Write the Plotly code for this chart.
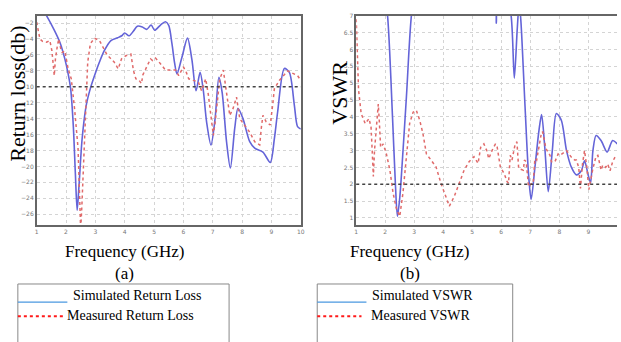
import plotly.graph_objects as go

W, H = 621, 342

# ---------------- data ----------------
rl_sim_f = [1.0, 1.2, 1.34, 1.6, 1.8, 1.96, 2.08, 2.16, 2.25, 2.32, 2.38, 2.45, 2.55, 2.69, 2.83,
            3.0, 3.14, 3.3, 3.53, 3.76, 3.9, 4.0, 4.15, 4.3, 4.43, 4.6, 4.75, 4.9, 5.02, 5.22,
            5.39, 5.5, 5.61, 5.7, 5.78, 5.95, 6.14, 6.29, 6.43, 6.57, 6.68, 6.79, 6.94, 7.08,
            7.21, 7.32, 7.47, 7.6, 7.75, 7.86, 8.03, 8.26, 8.43, 8.71, 8.96, 9.1, 9.21, 9.44,
            9.61, 9.78, 9.89, 10.0]
rl_sim_v = [0.8, -0.3, -1.1, -2.9, -4.5, -6.5, -8.5, -10.3, -15.0, -21.0, -25.5, -22.0, -16.5,
            -12.3, -10.2, -8.3, -6.9, -5.5, -4.2, -3.85, -3.6, -3.25, -3.6, -3.0, -2.4, -2.5,
            -2.8, -2.25, -2.9, -2.25, -1.85, -2.3, -4.6, -7.0, -8.4, -6.3, -3.9, -6.6, -10.5,
            -8.2, -10.5, -14.4, -17.3, -14.0, -8.8, -10.7, -16.9, -20.2, -15.2, -12.7, -14.0,
            -16.9, -17.7, -18.2, -19.5, -16.5, -13.2, -7.7, -8.2, -12.3, -15.0, -15.3]

rl_meas_f = [1.0, 1.05, 1.11, 1.2, 1.34, 1.45, 1.52, 1.6, 1.64, 1.7, 1.75, 1.82, 1.87, 1.96,
             2.07, 2.18, 2.29, 2.41, 2.46, 2.5, 2.54, 2.58, 2.66, 2.74, 2.83, 2.97, 3.14, 3.28,
             3.4, 3.48, 3.64, 3.78, 3.89, 4.04, 4.21, 4.3, 4.38, 4.49, 4.57, 4.62, 4.71, 4.8,
             4.88, 4.95, 5.05, 5.15, 5.22, 5.39, 5.56, 5.73, 5.84, 5.92, 6.0, 6.1, 6.18, 6.34,
             6.51, 6.62, 6.7, 6.76, 6.85, 6.91, 7.02, 7.08, 7.13, 7.24, 7.36, 7.47, 7.58, 7.69,
             7.81, 7.92, 8.09, 8.26, 8.43, 8.6, 8.66, 8.71, 8.82, 8.96, 9.05, 9.1, 9.27, 9.44,
             9.55, 9.66, 9.8, 9.89, 10.0]
rl_meas_v = [-1.9, -3.0, -4.0, -4.3, -4.4, -4.2, -5.5, -8.6, -6.5, -5.0, -4.0, -5.2, -5.7, -5.5,
             -7.7, -9.0, -12.7, -17.7, -22.0, -28.0, -25.0, -21.1, -14.8, -6.9, -4.6, -3.9, -4.2,
             -5.25, -6.0, -6.3, -6.9, -7.75, -6.5, -6.1, -5.9, -8.0, -9.0, -9.2, -9.6, -8.5,
             -7.75, -7.0, -6.5, -6.7, -6.4, -6.8, -7.1, -7.9, -7.9, -7.9, -8.6, -8.0, -7.5, -8.2,
             -9.0, -9.2, -9.4, -10.5, -9.5, -9.0, -11.0, -12.75, -16.1, -14.5, -12.75, -9.0,
             -7.9, -10.7, -13.6, -12.75, -11.3, -14.0, -14.8, -15.7, -16.9, -17.3, -15.0, -13.6,
             -14.4, -14.8, -12.0, -10.25, -9.2, -8.4, -8.0, -8.2, -8.4, -8.6, -9.2]

vswr_sim_f = [1.0, 1.5, 1.9, 2.08, 2.25, 2.35, 2.42, 2.5, 2.56, 2.73, 2.9, 3.2, 4.5, 5.5, 5.78,
              5.83, 5.88, 6.1, 6.34, 6.45, 6.55, 6.62, 6.68, 6.82, 6.94, 7.03, 7.16, 7.3, 7.39,
              7.5, 7.62, 7.76, 7.9, 8.07, 8.25, 8.42, 8.59, 8.76, 8.87, 8.99, 9.08, 9.16, 9.27,
              9.44, 9.65, 9.84, 10.0]
vswr_sim_v = [14.0, 11.0, 8.2, 7.0, 4.0, 2.0, 1.05, 1.6, 2.3, 4.6, 7.0, 9.0, 10.0, 9.0, 8.5,
              6.78, 8.5, 8.0, 7.0, 5.15, 6.6, 7.4, 6.8, 4.3, 2.3, 1.55, 2.5, 3.6, 4.07, 3.1, 1.78,
              3.0, 4.1, 3.9, 3.0, 2.5, 2.28, 2.4, 2.7, 2.3, 2.05, 3.0, 3.45, 3.3, 2.96, 3.3, 3.2]

vswr_meas_f = [1.0, 1.02, 1.05, 1.08, 1.17, 1.31, 1.44, 1.51, 1.55, 1.59, 1.63, 1.67, 1.76, 1.8,
               1.84, 1.93, 2.04, 2.16, 2.27, 2.39, 2.5, 2.61, 2.73, 2.84, 2.96, 3.07, 3.19, 3.3,
               3.42, 3.58, 3.75, 3.92, 4.09, 4.21, 4.38, 4.55, 4.72, 4.89, 5.06, 5.2, 5.29, 5.4,
               5.5, 5.57, 5.68, 5.8, 5.86, 5.97, 6.1, 6.2, 6.25, 6.31, 6.37, 6.48, 6.54, 6.6,
               6.76, 6.8, 6.86, 6.94, 7.05, 7.1, 7.16, 7.22, 7.28, 7.39, 7.43, 7.54, 7.68, 7.73,
               7.85, 7.96, 8.02, 8.25, 8.42, 8.53, 8.59, 8.67, 8.73, 8.8, 8.87, 8.95, 9.02, 9.1,
               9.16, 9.27, 9.33, 9.44, 9.5, 9.6, 9.67, 9.75, 9.84, 9.95]
vswr_meas_v = [6.9, 6.2, 5.4, 4.8, 4.1, 3.8, 3.95, 3.7, 3.0, 2.23, 3.0, 3.5, 4.38, 3.8, 3.1, 3.2,
               2.9, 2.42, 1.74, 1.25, 1.05, 1.74, 2.8, 3.8, 4.14, 4.2, 3.9, 3.5, 2.9, 2.72, 2.52,
               2.03, 1.64, 1.35, 1.64, 2.03, 2.42, 2.67, 2.82, 2.62, 3.1, 3.2, 3.0, 2.76, 3.0,
               3.2, 3.1, 2.5, 2.32, 2.08, 2.03, 2.86, 2.72, 3.2, 3.26, 2.47, 2.42, 2.72, 2.67,
               1.93, 2.03, 2.03, 2.76, 2.72, 3.06, 3.55, 3.55, 3.06, 2.86, 2.67, 2.67, 2.9, 2.86,
               3.0, 2.8, 2.72, 2.72, 2.5, 1.88, 2.6, 3.0, 2.5, 1.84, 2.2, 2.47, 2.84, 2.86, 2.42,
               2.57, 2.5, 2.6, 2.4, 2.67, 2.86]

rl_threshold = -10
vswr_threshold = 2

rl_ticks = list(range(-2, -27, -2))
vswr_ticks = [1, 1.5, 2, 2.5, 3, 3.5, 4, 4.5, 5, 5.5, 6, 6.5, 7]
freq_ticks = list(range(1, 11))

# ---------------- styles ----------------
SIM_COLOR = "#6464d8"
MEAS_COLOR = "#e06a6a"
SERIF = "Liberation Serif, Times New Roman, serif"


def px(x):
    return x / W


def py(y):
    return 1 - y / H


fig = go.Figure()
fig.add_trace(go.Scatter(x=rl_sim_f, y=rl_sim_v, mode="lines", xaxis="x", yaxis="y",
                         line=dict(color=SIM_COLOR, width=1.6, shape="spline", smoothing=0.8)))
fig.add_trace(go.Scatter(x=rl_meas_f, y=rl_meas_v, mode="lines", xaxis="x", yaxis="y",
                         line=dict(color=MEAS_COLOR, width=1.5, dash="dot")))
fig.add_trace(go.Scatter(x=vswr_sim_f, y=vswr_sim_v, mode="lines", xaxis="x2", yaxis="y2",
                         line=dict(color=SIM_COLOR, width=1.6, shape="spline", smoothing=0.8)))
fig.add_trace(go.Scatter(x=vswr_meas_f, y=vswr_meas_v, mode="lines", xaxis="x2", yaxis="y2",
                         line=dict(color=MEAS_COLOR, width=1.5, dash="dot")))

tickfont = dict(family="DejaVu Sans", size=6, color="#777")
axis_common = dict(showgrid=True, gridcolor="#d4d4d4", griddash="dot", gridwidth=1,
                   showline=True, linecolor="#666", linewidth=1.5, zeroline=False,
                   ticks="", tickfont=tickfont, ticklen=0)

fig.update_layout(
    width=W, height=H, margin=dict(l=0, r=0, t=0, b=0),
    paper_bgcolor="white", plot_bgcolor="white", showlegend=False,
    xaxis=dict(domain=[px(35), px(301.7)], range=[1, 10], tickvals=freq_ticks,
               anchor="y", mirror=True, **axis_common),
    yaxis=dict(domain=[py(224), py(12)], range=[-27.4, -1.1], tickvals=rl_ticks,
               anchor="x", mirror=True, **axis_common),
    xaxis2=dict(domain=[px(357.7), 1.0], range=[1, 9.99], tickvals=freq_ticks,
                anchor="y2", mirror=True, **axis_common),
    yaxis2=dict(domain=[py(224), py(12)], range=[0.78, 7.0], tickvals=vswr_ticks,
                anchor="x2", mirror=False, **axis_common),
)

# threshold lines
fig.add_shape(type="line", xref="x domain", yref="y", x0=0, x1=1, y0=rl_threshold, y1=rl_threshold,
              line=dict(color="#444", width=1.5, dash="dot"))
fig.add_shape(type="line", xref="x2 domain", yref="y2", x0=0, x1=1, y0=vswr_threshold, y1=vswr_threshold,
              line=dict(color="#444", width=1.5, dash="dot"))

# titles
def ann(text, x, y, size, angle=0, xanchor="center"):
    fig.add_annotation(text=text, x=px(x), y=py(y), xref="paper", yref="paper",
                       showarrow=False, textangle=angle, xanchor=xanchor, yanchor="middle",
                       font=dict(family=SERIF, size=size, color="black"))

ann("Return loss(db)", 16, 91, 22, angle=-90)
ann("VSWR", 341, 90, 22, angle=-90)
ann("Frequency (GHz)", 124, 250, 17)
ann("Frequency (GHz)", 411.7, 250, 17)
ann("(a)", 124, 273, 17)
ann("(b)", 411.7, 273, 17)

# legend boxes
for (x0, x1) in [(16, 229.3), (318.3, 515.7)]:
    fig.add_shape(type="rect", xref="paper", yref="paper", x0=px(x0), x1=px(x1),
                  y0=py(350), y1=py(283.3), line=dict(color="#888", width=1), fillcolor="rgba(0,0,0,0)")

def legline(x0, x1, y, color, dash, width):
    fig.add_shape(type="line", xref="paper", yref="paper", x0=px(x0), x1=px(x1), y0=py(y), y1=py(y),
                  line=dict(color=color, width=width, dash=dash))

legline(16, 66, 301.7, "#4a98e0", "solid", 1.2)
legline(16, 62, 316, "#ff1a1a", "dot", 2)
legline(318.3, 368, 301.7, "#4a98e0", "solid", 1.2)
legline(318.3, 363, 316, "#ff1a1a", "dot", 2)

ann("Simulated Return Loss", 70, 295, 14, xanchor="left")
ann("Measured Return Loss", 63.5, 315, 14, xanchor="left")
ann("Simulated VSWR", 371.7, 295, 14, xanchor="left")
ann("Measured VSWR", 370.7, 315, 14, xanchor="left")

fig.write_html("out.html")
